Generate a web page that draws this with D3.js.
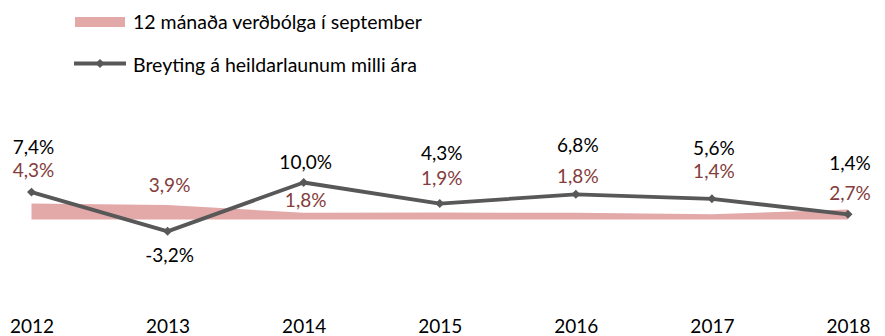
<!DOCTYPE html>
<html>
<head>
<meta charset="utf-8">
<script src="https://cdn.jsdelivr.net/npm/d3@7"></script>
<style>
  html, body { margin: 0; padding: 0; background: #fff; }
  svg { display: block; font-family: Lato, "Open Sans", sans-serif; }
</style>
</head>
<body>
<svg id="chart" width="885" height="336"></svg>
<script>
// Years on the category axis
const years = ["2012", "2013", "2014", "2015", "2016", "2017", "2018"];
// 12-month inflation in September (%)
const inflation = [4.3, 3.9, 1.8, 1.9, 1.8, 1.4, 2.7];
// Year-on-year change in total wages (%)
const wageChange = [7.4, -3.2, 10.0, 4.3, 6.8, 5.6, 1.4];

const seriesNames = ["12 mánaða verðbólga í september", "Breyting á heildarlaunum milli ára"];

// Label placement (baseline offset from the point, px)
const wageLabelDy = [-38, 31, -14, -44, -42, -44, -44];
const inflLabelDy = [-27, -13.5, -5.5, -27.5, -29.5, -36, -10];

const fmt = v => d3.format(".1f")(v).replace(".", ",").replace("\u2212", "-") + "%";

const svg = d3.select("#chart");

const x = d3.scalePoint().domain(years).range([31.5, 848]);
const y = d3.scaleLinear().domain([-5, 15]).range([238, 164]);

const areaColor = "#e3a9a9";
const lineColor = "#585858";
const inflTextColor = "#843c3c";
const labelSize = 19;

// Inflation area
const area = d3.area()
  .x((d, i) => x(years[i]))
  .y0(y(0))
  .y1(d => y(d));
svg.append("path")
  .datum(inflation)
  .attr("d", area)
  .attr("fill", areaColor);

// Wage change line
const line = d3.line()
  .x((d, i) => x(years[i]))
  .y(d => y(d));
svg.append("path")
  .datum(wageChange)
  .attr("d", line)
  .attr("fill", "none")
  .attr("stroke", lineColor)
  .attr("stroke-width", 3.8)
  .attr("stroke-linejoin", "round");

const diamond = d3.symbol().type(d3.symbolSquare).size(40);
svg.append("g").selectAll("path")
  .data(wageChange)
  .join("path")
  .attr("d", diamond)
  .attr("transform", (d, i) => `translate(${x(years[i])},${y(d)}) rotate(45)`)
  .attr("fill", lineColor);

// Value labels
svg.append("g").selectAll("text")
  .data(wageChange)
  .join("text")
  .attr("x", (d, i) => x(years[i]) + 2)
  .attr("y", (d, i) => y(d) + wageLabelDy[i])
  .attr("text-anchor", "middle")
  .attr("font-size", labelSize)
  .attr("fill", "#000")
  .text(fmt);

svg.append("g").selectAll("text")
  .data(inflation)
  .join("text")
  .attr("x", (d, i) => x(years[i]) + 2)
  .attr("y", (d, i) => y(d) + inflLabelDy[i])
  .attr("text-anchor", "middle")
  .attr("font-size", labelSize)
  .attr("fill", inflTextColor)
  .text(fmt);

// Category axis (labels only)
const xAxis = d3.axisBottom(x).tickSize(0).tickPadding(0);
const gx = svg.append("g")
  .attr("transform", "translate(0,319)")
  .call(xAxis);
gx.select(".domain").remove();
gx.selectAll("text")
  .attr("font-size", 19)
  .attr("font-family", "Lato, sans-serif")
  .attr("fill", "#000");

// Legend
const lg = svg.append("g");
lg.append("rect")
  .attr("x", 75).attr("y", 17).attr("width", 50).attr("height", 10)
  .attr("fill", areaColor);
lg.append("text")
  .attr("x", 133).attr("y", 28.5)
  .attr("font-size", 19.5).attr("fill", "#000")
  .text(seriesNames[0]);
lg.append("line")
  .attr("x1", 74).attr("x2", 126).attr("y1", 63.5).attr("y2", 63.5)
  .attr("stroke", lineColor).attr("stroke-width", 3.8);
lg.append("path")
  .attr("d", diamond)
  .attr("transform", "translate(100,63.5) rotate(45)")
  .attr("fill", lineColor);
lg.append("text")
  .attr("x", 133).attr("y", 71.5)
  .attr("font-size", 19.5).attr("fill", "#000")
  .text(seriesNames[1]);
</script>
</body>
</html>
